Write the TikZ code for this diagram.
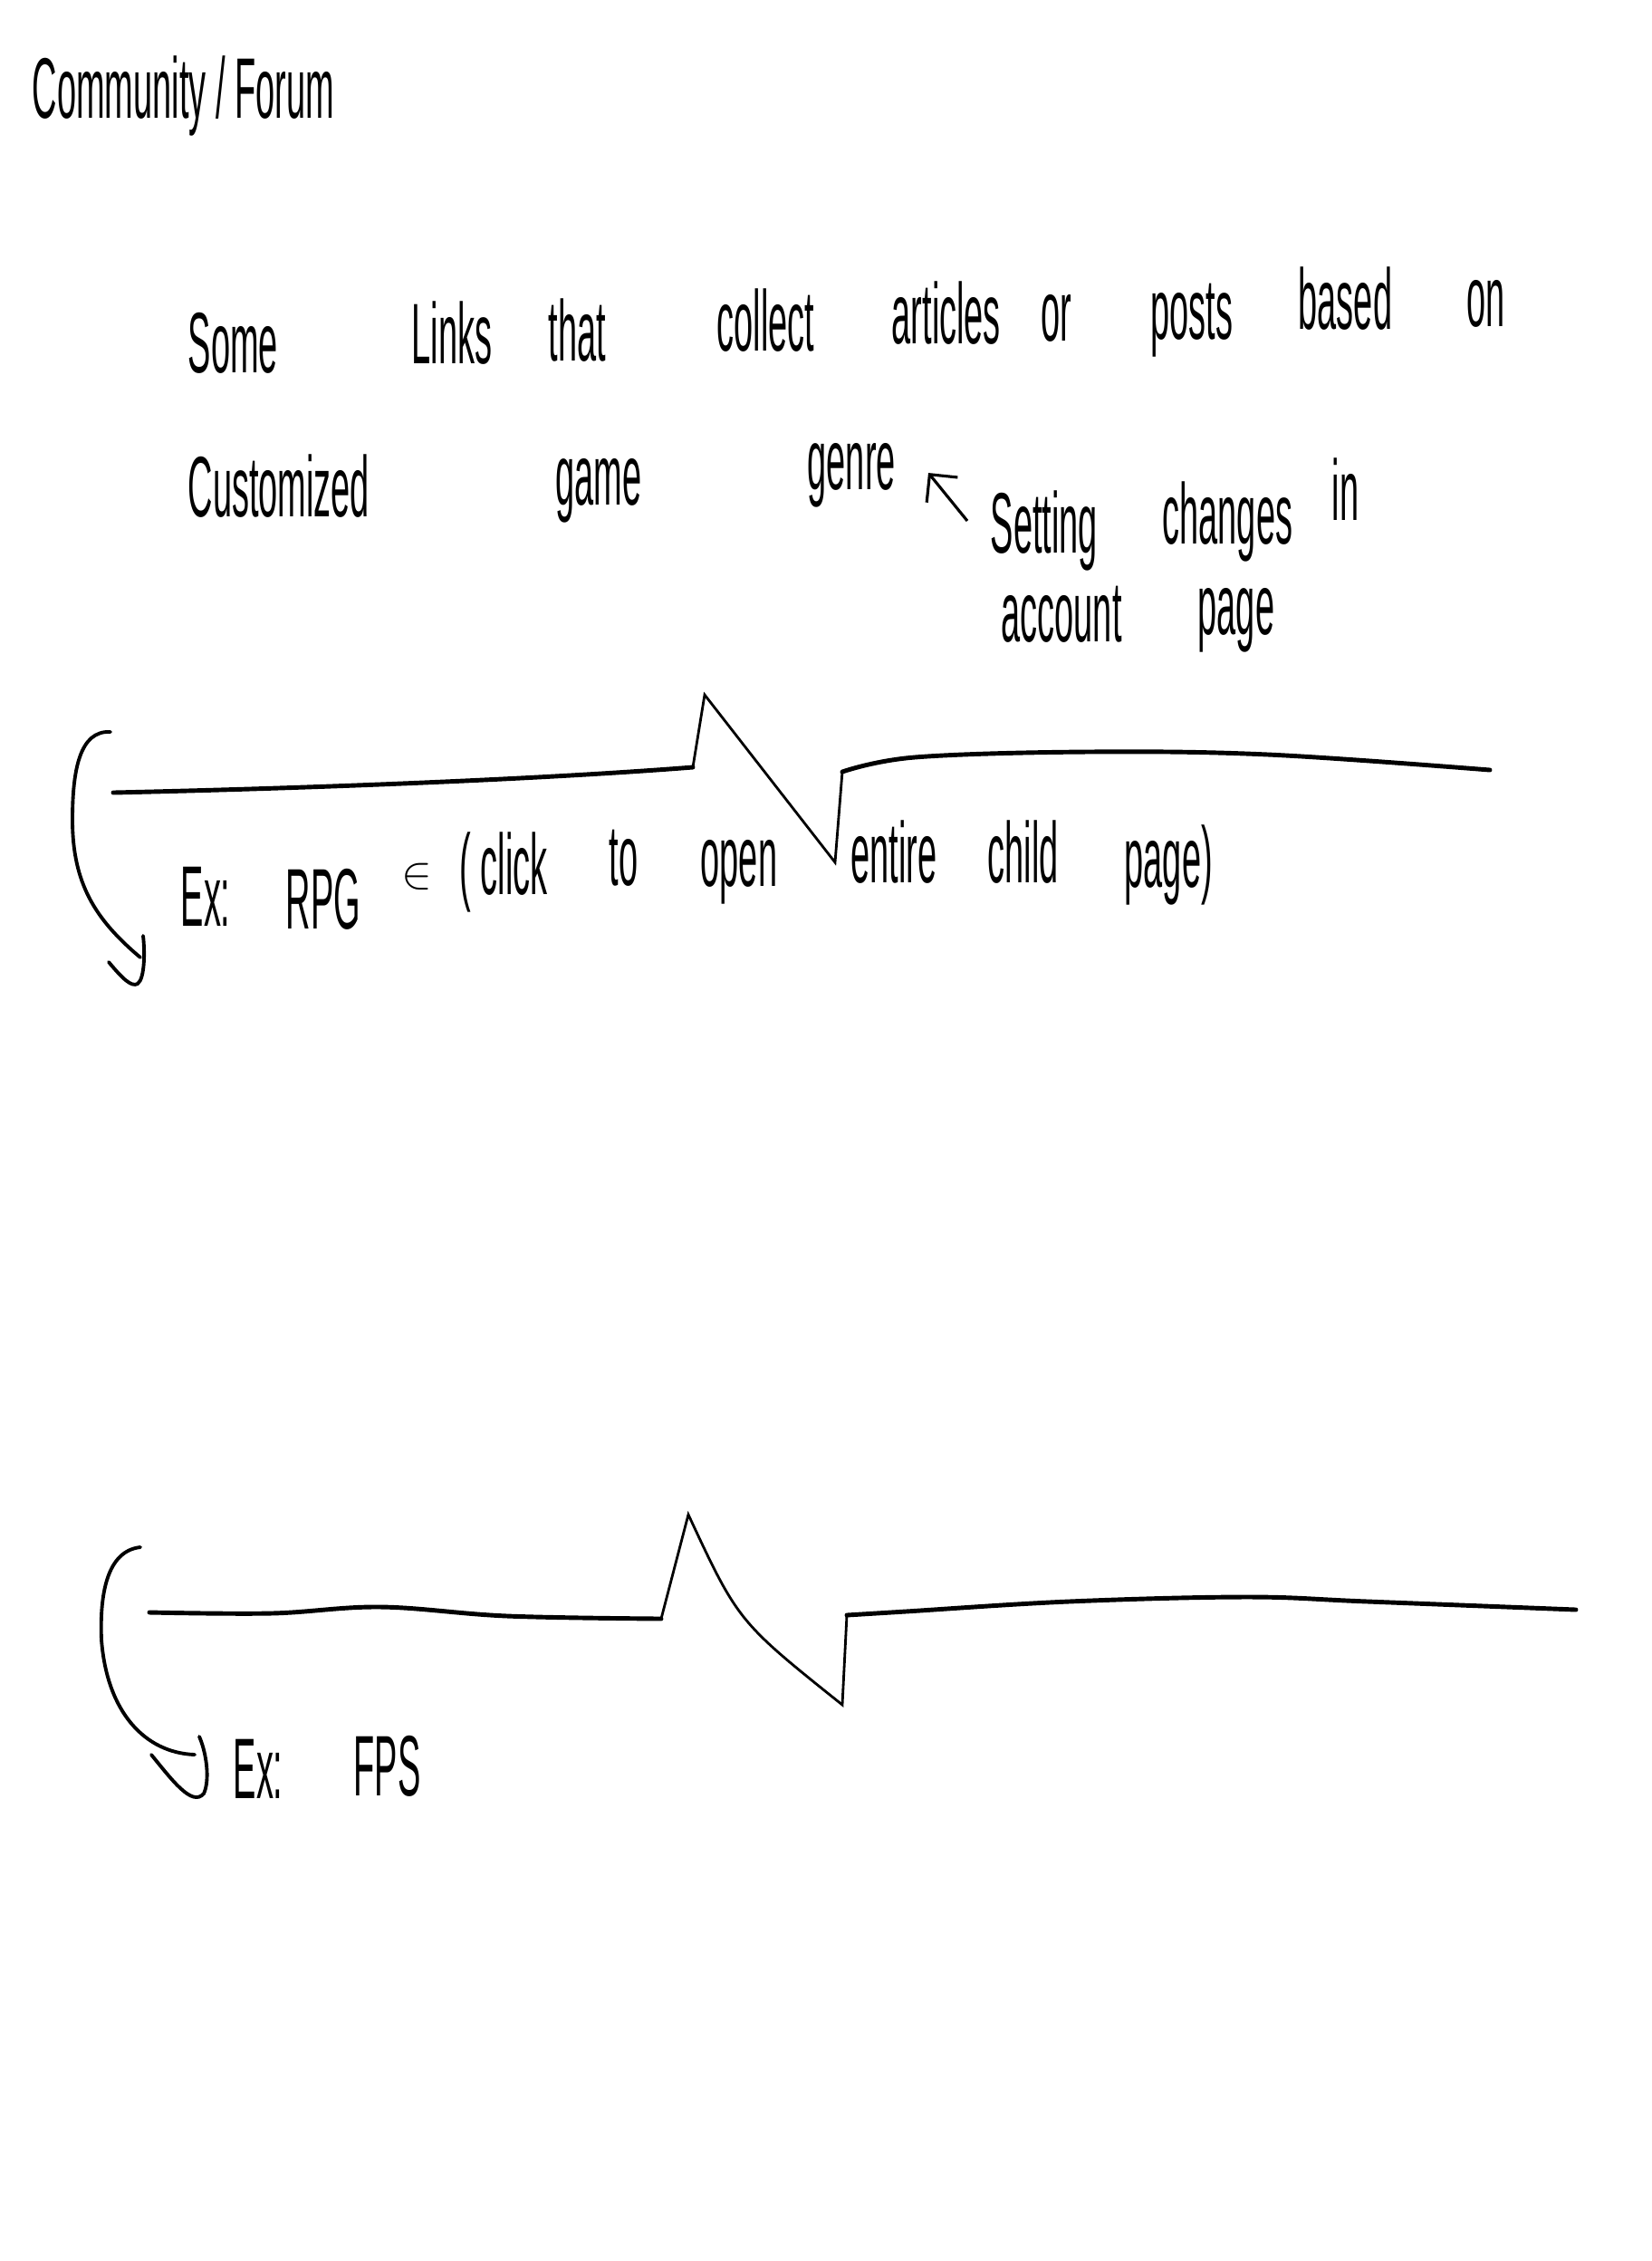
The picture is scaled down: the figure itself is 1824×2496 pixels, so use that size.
\documentclass[tikz,border=0pt]{standalone}
\usepackage{fontspec}
\usepackage{tikz}
\usetikzlibrary{arrows.meta}
\newfontfamily\handfont[FakeStretch=0.4]{Liberation Sans}
\tikzset{arrow/.style={-{Straight Barb[length=2.2mm,width=4.4mm]}, line width=0.9pt}}
\tikzset{word/.style={anchor=base west, inner sep=0pt, font=\handfont\fontsize{27}{30}\selectfont}}
\tikzset{wave/.style={line width=1.4pt, line cap=round, line join=round}}
\tikzset{pen/.style={line width=0.8pt, line join=miter}}
\tikzset{hook/.style={line width=1.1pt, line cap=round}}

\begin{document}
\begin{tikzpicture}[x=0.1mm, y=-0.1mm]
    \fill[white] (0, 0) rectangle (1824, 2496);
    \node[word] (title) at (35, 130) {Community / Forum};
    % first sentence
    \node[word] (some) at (207, 411) {Some};
    \node[word] (links) at (454, 401) {Links};
    \node[word] (that) at (605, 398) {that};
    \node[word] (collect) at (791, 387) {collect};
    \node[word] (articles) at (984, 379) {articles};
    \node[word] (or) at (1149, 376) {or};
    \node[word] (posts) at (1270, 374) {posts};
    \node[word] (based) at (1433, 363) {based};
    \node[word] (on) at (1619, 360) {on};
    \node[word] (custom) at (207, 570) {Customized};
    \node[word] (game) at (613, 557) {game};
    \node[word] (genre) at (891, 540) {genre};
    \node[word] (setting) at (1093, 610) {Setting};
    \node[word] (changes) at (1283, 600) {changes};
    \node[word] (in) at (1470, 574) {in};
    \node[word] (account) at (1105, 708) {account};
    \node[word] (page) at (1322, 700) {page};
    \coordinate (settail) at (1068, 575);
    \coordinate (genretip) at (1025, 522);
    \draw[arrow] (settail) -- (genretip);
    % first divider
    \coordinate (a0) at (125, 875);
    \coordinate (a1) at (765, 847);
    \coordinate (a2) at (778, 767);
    \coordinate (a3) at (922, 952);
    \coordinate (a4) at (930, 852);
    \draw[wave] (a0) .. controls (350, 870) and (600, 860) .. (a1);
    \draw[pen] (a1) -- (a2) -- (a3) -- (a4);
    \draw[wave] plot[smooth, tension=0.6] coordinates {(930, 852) (1010, 836) (1200, 830) (1400, 833) (1645, 850)};
    \draw[hook] (122, 808) .. controls (88, 806) and (80, 850) .. (80, 905)
        .. controls (80, 975) and (105, 1015) .. (155, 1057);
    \draw[hook] (120, 1062) .. controls (135, 1080) and (145, 1090) .. (152, 1086)
        .. controls (160, 1080) and (160, 1050) .. (158, 1033);
    \node[word] (ex1) at (199, 1022) {Ex:};
    \node[word] (rpg) at (315, 1025) {RPG};
    \node[word, font=\fontsize{14}{16}\selectfont] (insym) at (443, 980) {$\in$};
    \node[word] (click) at (507, 987) {( click};
    \node[word] (to) at (672, 977) {to};
    \node[word] (open) at (773, 978) {open};
    \node[word] (entire) at (939, 974) {entire};
    \node[word] (child) at (1090, 974) {child};
    \node[word] (childpage) at (1241, 979) {page)};
    % second divider
    \coordinate (b1) at (730, 1787);
    \coordinate (b2) at (760, 1672);
    \coordinate (b3) at (930, 1882);
    \coordinate (b4) at (935, 1783);
    \draw[wave] plot[smooth, tension=0.6] coordinates {(165, 1780) (300, 1781) (420, 1774) (560, 1784) (730, 1787)};
    \draw[pen] (b1) -- (b2) .. controls (815, 1790) .. (b3) -- (b4);
    \draw[wave] plot[smooth, tension=0.6] coordinates {(935, 1783) (1000, 1779) (1180, 1768) (1377, 1763) (1510, 1768) (1740, 1777)};
    \draw[hook] (155, 1708) .. controls (118, 1712) and (110, 1760) .. (112, 1810)
        .. controls (118, 1890) and (160, 1935) .. (215, 1937);
    \draw[hook] (167, 1937) .. controls (190, 1965) and (212, 1995) .. (225, 1980)
        .. controls (232, 1965) and (228, 1935) .. (220, 1917);
    \node[word] (ex2) at (257, 1985) {Ex:};
    \node[word] (fps) at (390, 1982) {FPS};
\end{tikzpicture}
\end{document}
